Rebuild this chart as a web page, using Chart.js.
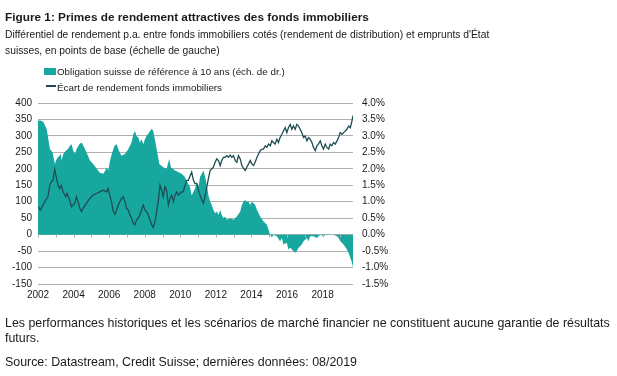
<!DOCTYPE html>
<html><head><meta charset="utf-8">
<script src="https://cdn.jsdelivr.net/npm/chart.js@4.4.1/dist/chart.umd.min.js"></script>
<style>
html,body{margin:0;padding:0;background:#fff;}
body{width:617px;height:376px;position:relative;overflow:hidden;font-family:"Liberation Sans",Arial,sans-serif;color:#1a1a1a;}
#c{position:absolute;left:0;top:0;}
.t{position:absolute;white-space:nowrap;}
#title{left:5px;top:9px;font-size:11.8px;font-weight:bold;line-height:16px;}
#sub{left:5px;top:27px;font-size:10.3px;line-height:15.5px;}
#lg1,#lg2{left:57px;font-size:9.8px;line-height:13px;}
#lg1{top:65px;} #lg2{top:81px;}
#box{position:absolute;left:44px;top:68px;width:12px;height:7px;background:#17a79f;}
#ln{position:absolute;left:46px;top:85px;width:10px;height:1.5px;background:#1d4d53;}
#foot{left:5px;top:315.5px;font-size:12.4px;line-height:15.4px;}
#src{left:5px;top:353.6px;font-size:12.4px;line-height:16px;}
</style></head>
<body>
<canvas id="c" width="617" height="376"></canvas>
<div class="t" id="title">Figure 1: Primes de rendement attractives des fonds immobiliers</div>
<div class="t" id="sub">Différentiel de rendement p.a. entre fonds immobiliers cotés (rendement de distribution) et emprunts d'État<br>suisses, en points de base (échelle de gauche)</div>
<div id="box"></div><div class="t" id="lg1">Obligation suisse de référence à 10 ans (éch. de dr.)</div>
<div id="ln"></div><div class="t" id="lg2">Écart de rendement fonds immobiliers</div>
<div class="t" id="foot">Les performances historiques et les scénarios de marché financier ne constituent aucune garantie de résultats<br>futurs.</div>
<div class="t" id="src">Source: Datastream, Credit Suisse; dernières données: 08/2019</div>
<script>
// Swiss 10y benchmark bond yield (%), right axis
const bondDates = [2002.00,2002.15,2002.30,2002.49,2002.67,2002.82,2002.95,2003.05,2003.20,2003.28,2003.33,2003.42,2003.57,2003.68,2003.80,2003.89,2003.98,2004.08,2004.17,2004.32,2004.45,2004.55,2004.64,2004.77,2004.92,2005.10,2005.30,2005.48,2005.67,2005.78,2005.86,2005.95,2006.05,2006.15,2006.30,2006.42,2006.55,2006.70,2006.89,2007.08,2007.26,2007.36,2007.45,2007.54,2007.64,2007.73,2007.82,2007.92,2008.01,2008.10,2008.25,2008.39,2008.48,2008.57,2008.67,2008.82,2009.04,2009.23,2009.38,2009.47,2009.70,2009.88,2010.07,2010.26,2010.39,2010.54,2010.64,2010.74,2010.83,2010.93,2011.02,2011.11,2011.21,2011.30,2011.40,2011.49,2011.58,2011.68,2011.77,2011.86,2011.96,2012.05,2012.15,2012.24,2012.33,2012.43,2012.52,2012.62,2012.80,2012.99,2013.18,2013.37,2013.46,2013.55,2013.65,2013.74,2013.84,2013.93,2014.02,2014.12,2014.21,2014.31,2014.49,2014.68,2014.87,2014.96,2015.06,2015.15,2015.24,2015.43,2015.61,2015.71,2015.80,2015.99,2016.08,2016.18,2016.36,2016.46,2016.55,2016.65,2016.74,2016.83,2016.93,2017.12,2017.21,2017.30,2017.49,2017.68,2017.77,2017.87,2018.05,2018.24,2018.43,2018.62,2018.81,2018.90,2019.00,2019.18,2019.37,2019.46,2019.56,2019.65,2019.71];
const bondYield = [3.47,3.47,3.42,3.20,2.60,2.50,2.15,2.30,2.40,2.45,2.25,2.45,2.55,2.60,2.70,2.75,2.55,2.45,2.60,2.75,2.80,2.70,2.60,2.45,2.25,2.15,2.00,1.88,1.85,1.95,2.05,1.95,2.25,2.45,2.70,2.75,2.55,2.40,2.45,2.60,2.80,3.05,3.15,3.00,2.95,2.80,2.90,2.75,2.90,3.00,3.10,3.22,3.15,2.90,2.60,2.15,2.05,2.00,2.30,2.05,1.95,1.90,1.85,1.75,1.60,1.45,1.20,1.30,1.40,1.60,1.45,1.75,1.85,1.95,1.75,1.50,1.20,1.00,0.90,0.75,0.65,0.70,0.60,0.75,0.60,0.50,0.55,0.45,0.50,0.45,0.55,0.70,0.90,1.00,1.05,1.00,1.00,0.90,1.00,0.95,0.90,0.75,0.55,0.40,0.30,0.15,-0.02,-0.08,0.00,-0.05,-0.20,-0.10,-0.30,-0.25,-0.45,-0.40,-0.50,-0.55,-0.50,-0.40,-0.35,-0.30,-0.20,-0.10,-0.20,-0.05,-0.05,-0.10,-0.05,0.00,-0.05,0.02,0.00,0.00,-0.05,-0.10,-0.20,-0.30,-0.45,-0.55,-0.70,-0.85,-1.00];

// Real-estate fund yield spread (bp), left axis
const spreadDates = [2002.00,2002.13,2002.24,2002.38,2002.56,2002.66,2002.75,2002.84,2002.94,2003.03,2003.13,2003.22,2003.31,2003.41,2003.56,2003.63,2003.75,2003.88,2003.97,2004.07,2004.16,2004.25,2004.35,2004.44,2004.53,2004.72,2004.91,2005.10,2005.29,2005.47,2005.66,2005.85,2005.94,2006.04,2006.13,2006.23,2006.32,2006.42,2006.51,2006.60,2006.70,2006.79,2006.89,2006.98,2007.07,2007.17,2007.26,2007.35,2007.45,2007.54,2007.64,2007.73,2007.82,2007.92,2008.01,2008.11,2008.20,2008.29,2008.39,2008.48,2008.58,2008.67,2008.76,2008.86,2008.95,2009.04,2009.14,2009.23,2009.33,2009.42,2009.51,2009.61,2009.70,2009.80,2009.89,2009.98,2010.08,2010.17,2010.26,2010.36,2010.45,2010.55,2010.64,2010.74,2010.83,2010.93,2011.02,2011.11,2011.21,2011.30,2011.40,2011.49,2011.58,2011.68,2011.77,2011.86,2011.96,2012.05,2012.15,2012.24,2012.33,2012.43,2012.52,2012.62,2012.71,2012.80,2012.90,2012.99,2013.09,2013.18,2013.27,2013.37,2013.46,2013.55,2013.65,2013.74,2013.84,2013.93,2014.02,2014.12,2014.21,2014.31,2014.40,2014.49,2014.59,2014.68,2014.78,2014.87,2014.96,2015.06,2015.15,2015.24,2015.33,2015.43,2015.52,2015.61,2015.71,2015.80,2015.90,2015.99,2016.08,2016.18,2016.27,2016.36,2016.46,2016.55,2016.65,2016.74,2016.83,2016.93,2017.02,2017.12,2017.21,2017.30,2017.40,2017.49,2017.59,2017.68,2017.77,2017.87,2017.96,2018.05,2018.15,2018.24,2018.34,2018.43,2018.52,2018.62,2018.71,2018.81,2018.90,2018.99,2019.09,2019.18,2019.28,2019.37,2019.46,2019.56,2019.65,2019.71];
const spreadBp = [85,75,85,100,115,150,160,165,198,175,150,140,150,130,115,125,110,85,90,95,115,100,80,70,80,95,110,120,125,130,135,130,140,120,100,70,62,75,90,100,110,115,100,80,75,60,50,35,30,45,50,60,75,90,75,70,60,45,30,22,40,70,100,150,135,115,145,135,90,110,120,100,120,130,120,125,130,130,150,165,165,178,190,165,155,155,135,120,105,95,120,145,170,195,200,205,220,230,225,210,225,235,235,240,235,242,235,240,225,220,240,230,210,202,195,205,215,225,215,210,220,235,245,255,260,260,270,265,275,270,285,280,275,290,280,295,305,315,325,310,325,335,320,330,320,335,330,320,310,295,300,285,295,290,280,265,255,270,275,285,270,260,275,265,260,275,270,280,275,285,295,310,305,310,315,320,330,325,345,362];

// Axis ticks
const yearTicks = [2002,2003,2004,2005,2006,2007,2008,2009,2010,2011,2012,2013,2014,2015,2016,2017,2018,2019];
const xRange = [2002, 2019.71];
const leftRange = [-150, 400];
const rightRange = [-1.5, 4.0];

const tealFill = '#17a79f';
const darkLine = '#1d4d53';
const gridCol = '#b0b0b0';

const zeroTicks = {
  id: 'zeroTicks',
  afterDatasetsDraw(chart) {
    const x = chart.scales.x, y = chart.scales.y, ctx = chart.ctx;
    const y0 = y.getPixelForValue(0);
    ctx.save();
    ctx.strokeStyle = gridCol; ctx.lineWidth = 1;
    yearTicks.forEach(v => {
      const px = Math.round(x.getPixelForValue(v)) + 0.5;
      ctx.beginPath(); ctx.moveTo(px, y0); ctx.lineTo(px, y0 + 3); ctx.stroke();
    });
    ctx.restore();
  }
};

new Chart(document.getElementById('c'), {
  type: 'line',
  data: {
    datasets: [
      {
        label: 'Écart de rendement fonds immobiliers',
        data: spreadDates.map((d, i) => ({x: d, y: spreadBp[i]})),
        yAxisID: 'y', borderColor: darkLine, borderWidth: 1.3,
        pointRadius: 0, fill: false, tension: 0
      },
      {
        label: 'Obligation suisse de référence à 10 ans (éch. de dr.)',
        data: bondDates.map((d, i) => ({x: d, y: bondYield[i]})),
        yAxisID: 'y1', borderWidth: 0, borderColor: tealFill,
        backgroundColor: tealFill, pointRadius: 0, fill: 'origin', tension: 0
      }
    ]
  },
  options: {
    responsive: false, animation: false,
    layout: {padding: {left: 0, right: 204, top: 103, bottom: 68}},
    plugins: {legend: {display: false}, tooltip: {enabled: false}},
    scales: {
      x: {
        type: 'linear', min: xRange[0], max: xRange[1],
        afterBuildTicks: s => { s.ticks = yearTicks.map(v => ({value: v})); },
        afterFit: s => { s.height = 24; },
        grid: {display: false, drawTicks: false}, border: {display: false},
        ticks: {autoSkip: false, maxRotation: 0, padding: 5, color: '#1a1a1a',
          font: {family: 'Liberation Sans', size: 10},
          callback: v => (v % 2 === 0 ? String(v) : '')}
      },
      y: {
        position: 'left', min: leftRange[0], max: leftRange[1],
        afterFit: s => { s.width = 38; },
        grid: {color: gridCol, lineWidth: 1, drawTicks: false}, border: {display: false},
        ticks: {stepSize: 50, padding: 6, color: '#1a1a1a', font: {family: 'Liberation Sans', size: 10}}
      },
      y1: {
        position: 'right', min: rightRange[0], max: rightRange[1],
        afterFit: s => { s.width = 60; },
        grid: {display: false, drawTicks: false}, border: {display: false},
        ticks: {stepSize: 0.5, padding: 9, color: '#1a1a1a', font: {family: 'Liberation Sans', size: 10},
          callback: v => v.toFixed(1) + '%'}
      }
    }
  },
  plugins: [zeroTicks]
});
</script>
</body></html>
